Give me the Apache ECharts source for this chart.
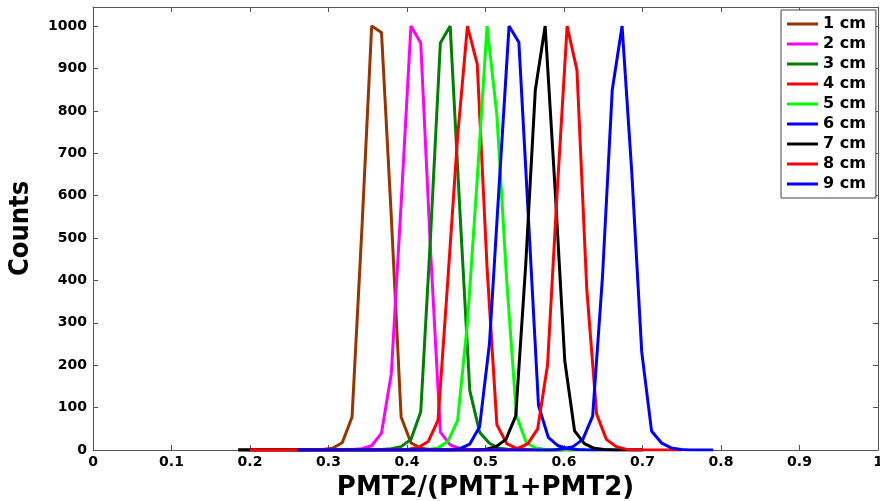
<!DOCTYPE html>
<html>
<head>
<meta charset="utf-8">
<script src="https://cdn.jsdelivr.net/npm/echarts@6/dist/echarts.min.js"></script>
<style>
html,body{margin:0;padding:0;background:#fff;}
#chart{width:880px;height:501px;}
</style>
</head>
<body>
<div id="chart"></div>
<script>
// Series names
const seriesNames = ['1 cm','2 cm','3 cm','4 cm','5 cm','6 cm','7 cm','8 cm','9 cm'];
// [PMT2/(PMT1+PMT2), Counts] pairs
const cm1 = [[0.185,0],[0.28,0],[0.2925,1],[0.305,4],[0.3175,17],[0.33,78],[0.3425,520],[0.355,1000],[0.3675,985],[0.38,550],[0.3925,78],[0.405,17],[0.4175,4],[0.43,1],[0.445,0],[0.5,0]];
const cm2 = [[0.19,0],[0.3175,0],[0.33,1],[0.3425,3],[0.355,10],[0.3675,40],[0.38,180],[0.3925,580],[0.405,1000],[0.4175,960],[0.43,470],[0.4425,42],[0.455,12],[0.4675,3],[0.48,1],[0.4925,0],[0.55,0]];
const cm3 = [[0.185,0],[0.355,0],[0.3675,1],[0.38,3],[0.3925,8],[0.405,25],[0.4175,90],[0.43,505],[0.4425,960],[0.455,1000],[0.4675,560],[0.48,140],[0.4925,42],[0.505,16],[0.5175,4],[0.53,1],[0.545,0],[0.6,0]];
const cm4 = [[0.2,0],[0.39,0],[0.402,2],[0.4145,6],[0.427,20],[0.4395,70],[0.452,400],[0.4645,740],[0.477,1000],[0.4895,910],[0.502,430],[0.5145,60],[0.527,15],[0.5395,4],[0.552,1],[0.565,0],[0.62,0]];
const cm5 = [[0.26,0],[0.4145,0],[0.427,1],[0.4395,5],[0.452,20],[0.4645,70],[0.477,300],[0.4895,640],[0.502,1000],[0.5145,790],[0.527,400],[0.5395,80],[0.552,17],[0.5645,4],[0.577,1],[0.59,0],[0.65,0]];
const cm6 = [[0.26,0],[0.455,0],[0.4675,3],[0.48,14],[0.4925,55],[0.505,250],[0.5175,627],[0.53,1000],[0.5425,962],[0.555,537],[0.5675,105],[0.58,30],[0.5925,10],[0.605,3],[0.6175,1],[0.63,0],[0.7,0]];
const cm7 = [[0.185,0],[0.4885,0],[0.501,2],[0.5135,8],[0.526,25],[0.5385,80],[0.551,430],[0.5635,850],[0.576,1000],[0.5885,620],[0.601,210],[0.6135,45],[0.626,15],[0.6385,4],[0.651,1],[0.665,0],[0.7,0]];
const cm8 = [[0.2,0],[0.529,0],[0.5415,4],[0.554,15],[0.5665,50],[0.579,200],[0.5915,615],[0.604,1000],[0.6165,896],[0.629,380],[0.6415,85],[0.654,25],[0.6665,8],[0.679,2],[0.69,0],[0.75,0]];
const cm9 = [[0.26,0],[0.5865,0],[0.599,3],[0.6115,8],[0.624,25],[0.6365,80],[0.649,408],[0.6615,850],[0.674,1000],[0.6865,650],[0.699,232],[0.7115,45],[0.724,17],[0.7365,5],[0.749,1],[0.76,0],[0.79,0]];
const seriesData = [cm1,cm2,cm3,cm4,cm5,cm6,cm7,cm8,cm9];
const colors = ['#993300','#FF00FF','#008000','#FF0000','#00FF00','#0000FF','#000000','#FF0000','#0000FF'];

const axisColor = '#555555';
const labelFont = {fontFamily:'DejaVu Sans', fontWeight:'bold', fontSize:14, color:'#000'};

const chart = echarts.init(document.getElementById('chart'), null, {renderer:'canvas'});
chart.setOption({
  animation:false,
  backgroundColor:'#fff',
  grid:{left:93, right:2, top:7, bottom:51, containLabel:false, outerBoundsMode:'none'},
  legend:{
    data:seriesNames,
    orient:'vertical',
    left:781, top:10,
    icon:'rect', itemWidth:31, itemHeight:3, itemGap:0, itemTextGap:3,
    padding:[4,10,4,6],
    backgroundColor:'#fff', borderColor:'#444', borderWidth:1,
    textStyle:{fontFamily:'DejaVu Sans', fontWeight:'bold', fontSize:16, color:'#000', lineHeight:20}
  },
  xAxis:[{
    type:'value', min:0, max:1, interval:0.1, position:'bottom',
    axisLine:{show:true, onZero:false, lineStyle:{color:axisColor, width:1}},
    axisTick:{show:true, inside:true, length:5, lineStyle:{color:axisColor}},
    axisLabel:Object.assign({margin:5, formatter:v=>String(+v.toFixed(1))}, labelFont),
    splitLine:{show:false},
    name:'PMT2/(PMT1+PMT2)', nameLocation:'middle', nameGap:25,
    nameTextStyle:{fontFamily:'DejaVu Sans', fontWeight:'bold', fontSize:26, color:'#000'}
  },{
    type:'value', min:0, max:1, interval:0.1, position:'top',
    axisLine:{show:true, onZero:false, lineStyle:{color:axisColor, width:1}},
    axisTick:{show:true, inside:true, length:5, lineStyle:{color:axisColor}},
    axisLabel:{show:false}, splitLine:{show:false}
  }],
  yAxis:[{
    type:'value', min:0, max:1045, interval:100, position:'left',
    axisLine:{show:true, onZero:false, lineStyle:{color:axisColor, width:1}},
    axisTick:{show:true, inside:true, length:5, lineStyle:{color:axisColor}},
    axisLabel:Object.assign({margin:6, showMaxLabel:false, formatter:v=>String(Math.round(v))}, labelFont),
    splitLine:{show:false},
    name:'Counts', nameLocation:'middle', nameGap:59, nameRotate:90,
    nameTextStyle:{fontFamily:'Liberation Sans Narrow, DejaVu Sans Condensed, sans-serif', fontWeight:'bold', fontSize:27, color:'#000'}
  },{
    type:'value', min:0, max:1045, interval:100, position:'right',
    axisLine:{show:true, onZero:false, lineStyle:{color:axisColor, width:1}},
    axisTick:{show:true, inside:true, length:5, lineStyle:{color:axisColor}},
    axisLabel:{show:false}, splitLine:{show:false}
  }],
  series: seriesNames.map((n,i)=>({
    name:n, type:'line', data:seriesData[i], xAxisIndex:0, yAxisIndex:0,
    showSymbol:false, symbol:'none', smooth:false,
    lineStyle:{color:colors[i], width:3},
    itemStyle:{color:colors[i]},
    emphasis:{disabled:true}
  }))
});
</script>
</body>
</html>
